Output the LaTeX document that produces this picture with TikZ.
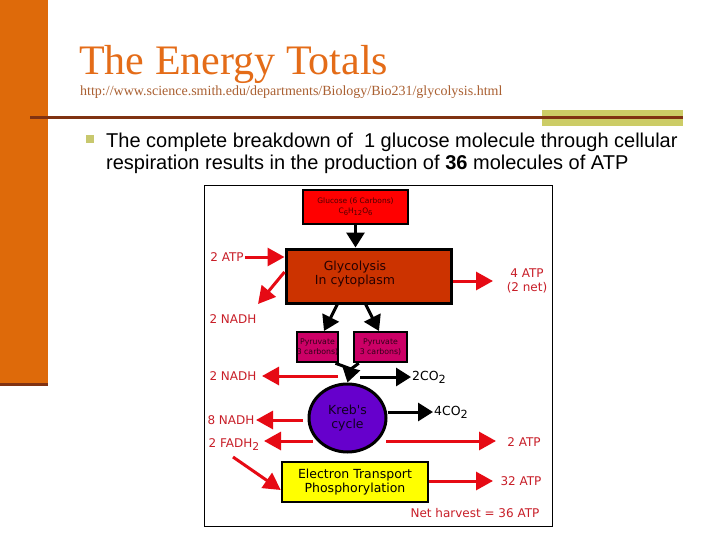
\documentclass[tikz,border=0pt]{standalone}
\usepackage{fontspec}
\setmainfont{Liberation Serif}
\newfontfamily\arialf{Liberation Sans}
\newfontfamily\verdf{DejaVu Sans}
\usetikzlibrary{arrows.meta,shapes.geometric}
\newcommand\lowsub[1]{\raisebox{-0.45ex}{\scalebox{0.9}{#1}}}
\definecolor{barorange}{RGB}{222,106,10}
\definecolor{titleorange}{RGB}{228,108,24}
\definecolor{urlbrown}{RGB}{170,96,50}
\definecolor{linebrown}{RGB}{128,50,18}
\definecolor{olive}{RGB}{204,204,102}
\definecolor{bulletolive}{RGB}{200,200,110}
\definecolor{glucred}{RGB}{255,0,0}
\definecolor{glycored}{RGB}{204,51,0}
\definecolor{pyrmag}{RGB}{204,0,102}
\definecolor{krebpurple}{RGB}{102,0,204}
\definecolor{etpyellow}{RGB}{255,255,0}
\definecolor{arrred}{RGB}{230,10,20}
\definecolor{lblred}{RGB}{200,30,40}
\tikzset{
  redarr/.style={draw=arrred, line width=3pt, -{Triangle[length=17pt,width=18pt]}},
  blkarr/.style={draw=black, line width=3pt, -{Triangle[length=15pt,width=18pt]}},
  blkline/.style={draw=black, line width=3pt},
  lbl/.style={font=\verdf\fontsize{12}{13.5}\selectfont, text=lblred, inner sep=1pt},
  blklbl/.style={font=\verdf\fontsize{12.5}{14}\selectfont, text=black, inner sep=1pt},
  boxs/.style={draw=black, inner sep=0pt, align=center},
}
\begin{document}
\begin{tikzpicture}[x=1pt,y=-1pt]
\useasboundingbox (0,0) rectangle (720,540);
\fill[white] (0,0) rectangle (720,540);
% slide decoration
\fill[barorange] (0,0) rectangle (48,383);
\fill[linebrown] (0,383) rectangle (48,386);
\fill[olive] (542,110) rectangle (683,126);
\fill[linebrown] (30,116) rectangle (683,119.5);
% title
\node[anchor=base west, inner sep=0pt, text=titleorange, font=\fontsize{42}{46}\selectfont] (title) at (79,75) {The Energy Totals};
\node[anchor=base west, inner sep=0pt, text=urlbrown, font=\fontsize{14}{16}\selectfont] (url) at (80,96) {http://www.science.smith.edu/departments/Biology/Bio231/glycolysis.html};
% bullet
\fill[bulletolive] (86,135) rectangle (94,143);
\node[anchor=base west, inner sep=0pt, font=\arialf\fontsize{20}{22}\selectfont] (l1) at (106,147.5) {The complete breakdown of\ \ 1 glucose molecule through cellular};
\node[anchor=base west, inner sep=0pt, font=\arialf\fontsize{20}{22}\selectfont] (l2) at (106,169.5) {respiration results in the production of \textbf{36} molecules of ATP};
% diagram frame
\draw[black, line width=1pt, fill=white] (204,186) rectangle (552,526);
% boxes
\node[boxs, fill=glucred, line width=2pt, minimum width=105pt, minimum height=34pt, font=\verdf\fontsize{7.5}{10}\selectfont, text=black!70!red] (gluc) at (355.5,207) {Glucose (6 Carbons)\\C\lowsub{6}H\lowsub{12}O\lowsub{6}};
\node[boxs, fill=glycored, line width=3pt, minimum width=165pt, minimum height=54pt] (glyco) at (368.5,276) {};
\node[align=center, inner sep=0pt, font=\verdf\fontsize{12.5}{14}\selectfont, text=black!85!red] (glycotxt) at (355,274) {Glycolysis\\In cytoplasm};
\node[boxs, fill=pyrmag, line width=2.5pt, minimum width=41pt, minimum height=30pt, font=\verdf\fontsize{7.8}{9.5}\selectfont, text=black!75!pyrmag] (pyr1) at (317.5,347) {Pyruvate\\3 carbons)};
\node[boxs, fill=pyrmag, line width=2.5pt, minimum width=53pt, minimum height=30pt, font=\verdf\fontsize{7.8}{9.5}\selectfont, text=black!75!pyrmag] (pyr2) at (380.5,347) {Pyruvate\\3 carbons)};
\node[ellipse, draw=black, fill=krebpurple, line width=3pt, minimum width=77pt, minimum height=68pt, inner sep=0pt, align=center, font=\verdf\fontsize{12.5}{14}\selectfont, text=black!85!krebpurple] (krebs) at (347.5,418) {Kreb's\\cycle};
\node[boxs, fill=etpyellow, line width=2.5pt, minimum width=146pt, minimum height=40pt, font=\verdf\fontsize{12.5}{14}\selectfont] (etp) at (355,482) {Electron Transport\\Phosphorylation};
% labels
\node[lbl] (t2atp) at (227,257) {2 ATP};
\node[lbl] (tnadh1) at (233,319) {2 NADH};
\node[lbl, align=center, font=\verdf\fontsize{12}{13.5}\selectfont] (t4atp) at (527,281) {4 ATP\\(2 net)};
\node[lbl] (tnadh2) at (233,376) {2 NADH};
\node[blklbl, anchor=west] (tco2a) at (411,377) {2CO\lowsub{2}};
\node[blklbl, anchor=west] (tco2b) at (433,412) {4CO\lowsub{2}};
\node[lbl] (tnadh8) at (231,420) {8 NADH};
\node[lbl] (tfadh) at (234,445) {2 FADH\lowsub{2}};
\node[lbl] (t2atpb) at (524,442) {2 ATP};
\node[lbl] (t32atp) at (521,481) {32 ATP};
\node[lbl] (tnet) at (475,513) {Net harvest = 36 ATP};
% coordinates for free ends
\coordinate (c1) at (258,304);
\coordinate (c2) at (493,281);
\coordinate (c3) at (338,376);
\coordinate (c4) at (262,376);
\coordinate (c5) at (360,377);
\coordinate (c6) at (303,420);
\coordinate (c7) at (256,420);
\coordinate (c8) at (313,441);
\coordinate (c9) at (264,441);
\coordinate (c10) at (386,441);
\coordinate (c11) at (496,441);
\coordinate (c12) at (233,457);
\coordinate (c13) at (493,481);
\coordinate (kmid) at (351,369);
% connectors
\draw[blkarr] (gluc.south) -- (gluc.south |- glyco.north);
\draw[redarr] (t2atp.east) -- (glyco.west |- t2atp.east);
\draw[redarr] (glyco.west |- 0,272) -- (c1);
\draw[redarr] (glyco.east |- c2) -- (c2);
\draw[blkarr] (338,303) -- (324,331);
\draw[blkarr] (365,303) -- (379,331);
\draw[redarr] (c3) -- (c4);
\draw[blkline] ([xshift=-4pt]pyr1.south east) -- (kmid);
\draw[blkline] ([xshift=6pt]pyr2.south west) -- (kmid);
\draw[blkarr] (kmid) -- (krebs.north);
\draw[blkarr] (c5) -- (tco2a.west);
\draw[blkarr] (krebs.east |- 0,412) -- (tco2b.west |- 0,412);
\draw[redarr] (c6) -- (c7);
\draw[redarr] (c8) -- (c9);
\draw[redarr] (c10) -- (c11);
\draw[redarr] (c12) -- (etp.west |- 0,490);
\draw[redarr] (etp.east |- c13) -- (c13);
\end{tikzpicture}
\end{document}
